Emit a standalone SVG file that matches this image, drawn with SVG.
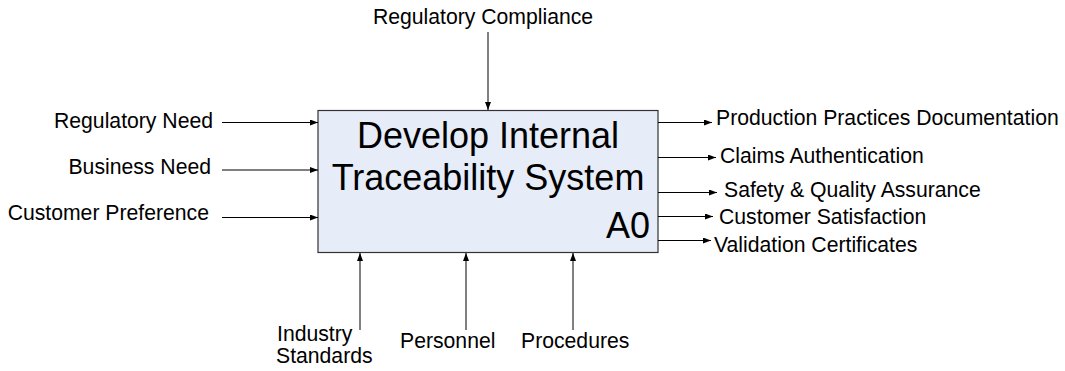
<svg xmlns="http://www.w3.org/2000/svg" width="1065" height="371" viewBox="0 0 1065 371">
  <style>
    .lbl { font-family: "Liberation Sans", Arial, sans-serif; font-size: 21.2px; fill: #000; }
    .title { font-family: "Liberation Sans", Arial, sans-serif; font-size: 36px; fill: #000; }
    .arrow { stroke: #000; stroke-width: 1; fill: none; marker-end: url(#head); }
  </style>
  <defs>
    <marker id="head" viewBox="0 0 8 6" refX="8" refY="3" markerWidth="8" markerHeight="6" markerUnits="userSpaceOnUse" orient="auto">
      <path d="M0,0 L8,3 L0,6 Z" fill="#000"/>
    </marker>
  </defs>
  <rect width="1065" height="371" fill="#fff"/>

  <!-- activity box -->
  <g id="A0">
    <rect x="318" y="110.5" width="340" height="142" fill="#E6ECF8" stroke="#333" stroke-width="1.2"/>
    <text class="title" x="488" y="148" text-anchor="middle">Develop Internal</text>
    <text class="title" x="488" y="190" text-anchor="middle">Traceability System</text>
    <text class="title" x="650" y="238" text-anchor="end">A0</text>
  </g>

  <!-- ICOM connectors -->
  <g id="connectors">
    <line class="arrow" x1="488" y1="32" x2="488" y2="110"/>
    <line class="arrow" x1="222" y1="122.5" x2="318" y2="122.5"/>
    <line class="arrow" x1="222" y1="170" x2="318" y2="170"/>
    <line class="arrow" x1="222" y1="217.5" x2="318" y2="217.5"/>
    <line class="arrow" x1="360" y1="330" x2="360" y2="253"/>
    <line class="arrow" x1="466" y1="330" x2="466" y2="253"/>
    <line class="arrow" x1="573" y1="330" x2="573" y2="253"/>
    <line class="arrow" x1="658" y1="122.5" x2="712" y2="122.5"/>
    <line class="arrow" x1="658" y1="157.5" x2="716" y2="157.5"/>
    <line class="arrow" x1="658" y1="192.5" x2="717" y2="192.5"/>
    <line class="arrow" x1="658" y1="216.5" x2="713" y2="216.5"/>
    <line class="arrow" x1="658" y1="240.5" x2="711" y2="240.5"/>
  </g>

  <!-- control -->
  <g id="control-regulatory-compliance">
    <text class="lbl" x="483" y="24" text-anchor="middle">Regulatory Compliance</text>
  </g>

  <!-- inputs -->
  <g id="input-regulatory-need">
    <text class="lbl" x="213" y="128" text-anchor="end">Regulatory Need</text>
  </g>
  <g id="input-business-need">
    <text class="lbl" x="211" y="174" text-anchor="end">Business Need</text>
  </g>
  <g id="input-customer-preference">
    <text class="lbl" x="209" y="220" text-anchor="end">Customer Preference</text>
  </g>

  <!-- mechanisms -->
  <g id="mech-industry-standards">
    <text class="lbl" x="277" y="341">Industry</text>
    <text class="lbl" x="276" y="363">Standards</text>
  </g>
  <g id="mech-personnel">
    <text class="lbl" x="400" y="348">Personnel</text>
  </g>
  <g id="mech-procedures">
    <text class="lbl" x="521" y="348">Procedures</text>
  </g>

  <!-- outputs -->
  <g id="out-production-practices">
    <text class="lbl" x="716" y="125">Production Practices Documentation</text>
  </g>
  <g id="out-claims-authentication">
    <text class="lbl" x="720" y="163">Claims Authentication</text>
  </g>
  <g id="out-safety-quality">
    <text class="lbl" x="724" y="197">Safety &amp; Quality Assurance</text>
  </g>
  <g id="out-customer-satisfaction">
    <text class="lbl" x="719" y="224">Customer Satisfaction</text>
  </g>
  <g id="out-validation-certificates">
    <text class="lbl" x="714" y="252">Validation Certificates</text>
  </g>
</svg>
